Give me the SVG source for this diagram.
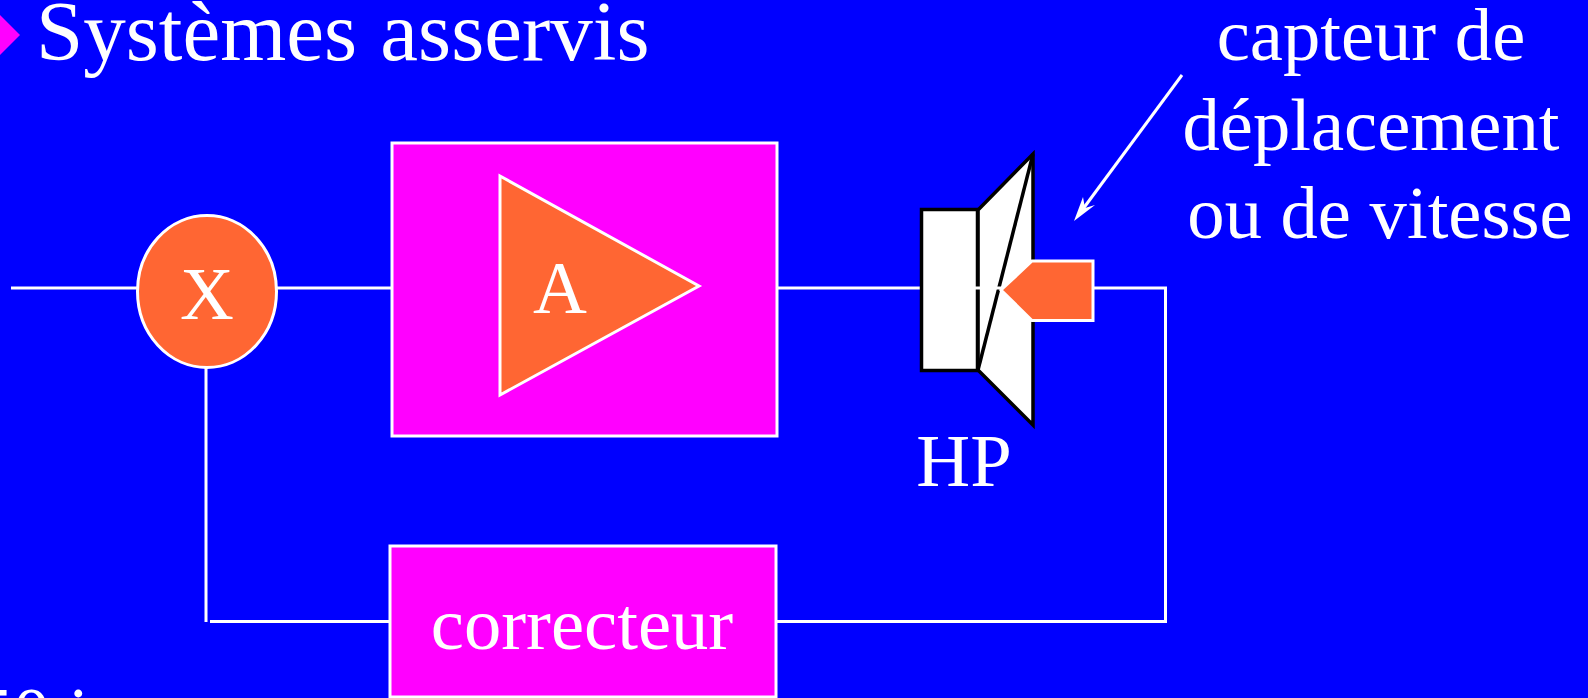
<svg xmlns="http://www.w3.org/2000/svg" width="1588" height="698" viewBox="0 0 1588 698">
<style>
text{font-family:"Liberation Serif","Times New Roman",serif;fill:#fff}
.w{fill:none;stroke:#fff;stroke-width:3}
.b{stroke:#fff;stroke-width:3}
.k{fill:#fff;stroke:#000;stroke-width:3.5;stroke-linejoin:miter}
.t{font-size:74.6px;text-anchor:middle}
</style>
<rect width="1588" height="698" fill="#0000ff"/>
<g id="title"><polygon points="0,15 20,35 0,55" fill="#ff00ff"/><text x="36" y="60" font-size="85" word-spacing="2">Systèmes asservis</text></g>
<g id="connectors">
<path class="w" d="M11 288H137M277 288H392M777 288H923M1093 288H1165.500V621.500H776M390 621.500H210M206 368V622"/>
<path class="w" d="M1182 75L1080 213"/>
<polygon points="1074,221 1083,197 1085,208 1095,205" fill="#fff"/>
</g>
<g id="sum"><ellipse cx="207" cy="291.500" rx="69.500" ry="76" fill="#ff6633" class="b"/><text x="207" y="319" class="t">X</text></g>
<g id="amp"><rect x="392" y="143" width="385" height="293" fill="#ff00ff" class="b"/><polygon points="500,176 699,286 500,395" fill="#ff6633" class="b"/><text x="560" y="313" class="t">A</text></g>
<g id="hp"><polygon class="k" points="978,210 1033,154 1033,425 978,370"/><rect class="k" x="921.500" y="209.500" width="56" height="161"/><line x1="1033" y1="154" x2="978" y2="370" stroke="#000" stroke-width="3.500"/><line x1="924" y1="288" x2="1002" y2="288" stroke="#fff" stroke-width="3"/><text x="964" y="486" class="t">HP</text></g>
<g id="sensor"><polygon points="1001,290 1032,261 1093,261 1093,320.500 1032,320.500" fill="#ff6633" class="b"/></g>
<g id="corr"><rect x="390" y="546" width="386" height="151" fill="#ff00ff" class="b"/><text x="582" y="649" class="t">correcteur</text></g>
<g id="label"><text x="1371" y="60" class="t">capteur de</text><text x="1371" y="150" class="t">déplacement</text><text x="1380" y="238" class="t">ou de vitesse</text></g>
<g id="clip"><text x="-24" y="739" font-size="74">50 i</text></g>
</svg>
